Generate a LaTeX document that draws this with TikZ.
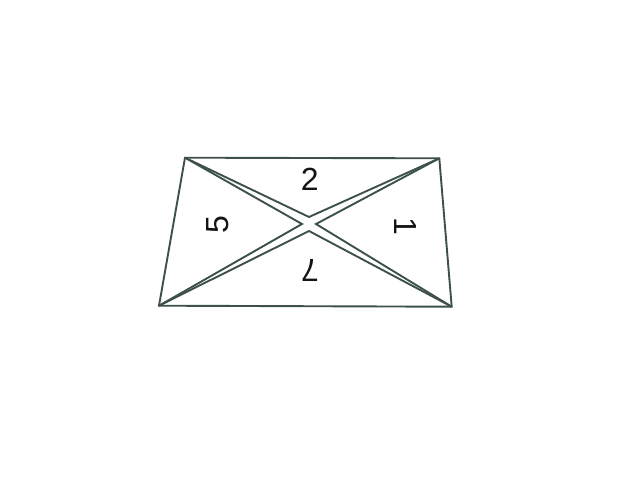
\documentclass[tikz,border=0pt]{standalone}
\usepackage{fontspec}
\setmainfont{Liberation Sans}
\begin{document}
\begin{tikzpicture}[x=1pt,y=-1pt,
  edge/.style={draw={rgb,255:red,62;green,80;blue,74},line width=1.9pt,line join=miter},
  num/.style={inner sep=0pt,font=\fontsize{32}{32}\selectfont,text={rgb,255:red,20;green,20;blue,20}}]
\useasboundingbox (0,0) rectangle (640,480);
\coordinate (tl) at (185,157.7);
\coordinate (tr) at (439.3,158.3);
\coordinate (br) at (451.7,306.7);
\coordinate (bl) at (159,305.7);
\coordinate (at) at (309,217);
\coordinate (al) at (302,224);
\coordinate (ar) at (316,224);
\coordinate (ab) at (309,231);
\draw[edge] (tl) -- (tr) -- (br) -- (bl) -- cycle;
\draw[edge] (tl) -- (at) -- (tr);
\draw[edge] (tl) -- (al) -- (bl);
\draw[edge] (tr) -- (ar) -- (br);
\draw[edge] (bl) -- (ab) -- (br);
\node[num] (n2) at (309.7,179.8) {2};
\node[num,rotate=90] (n5) at (218,225) {5};
\node[num,rotate=-90] (n1) at (406,226) {1};
\node[num,rotate=180] (n7) at (310,271) {7};
\end{tikzpicture}
\end{document}
